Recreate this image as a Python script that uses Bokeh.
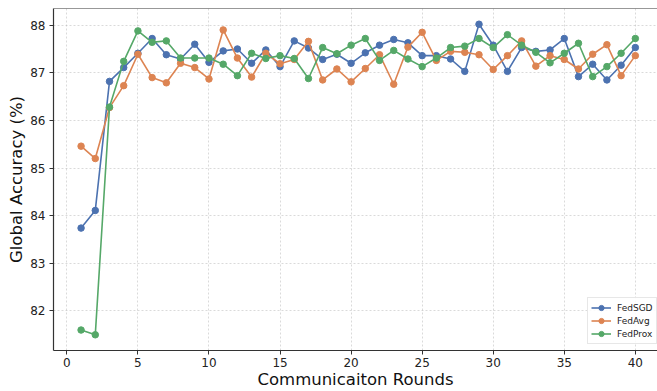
from bokeh.plotting import figure
from bokeh.models import FixedTicker, Span, Legend, LegendItem, Range1d
from bokeh.embed import file_html
from bokeh.resources import INLINE

rounds = list(range(1, 41))
fedsgd = [83.74, 84.11, 86.82, 87.11, 87.41, 87.72, 87.38, 87.29, 87.60, 87.22,
          87.46, 87.50, 87.20, 87.48, 87.13, 87.67, 87.52, 87.28, 87.39, 87.20,
          87.42, 87.58, 87.70, 87.63, 87.36, 87.36, 87.29, 87.03, 88.02, 87.58,
          87.03, 87.53, 87.45, 87.48, 87.72, 86.92, 87.18, 86.85, 87.16, 87.53]
fedavg = [85.46, 85.20, 86.27, 86.73, 87.39, 86.90, 86.79, 87.20, 87.11, 86.87,
          87.90, 87.31, 86.91, 87.41, 87.19, 87.28, 87.66, 86.85, 87.08, 86.81,
          87.09, 87.38, 86.76, 87.54, 87.85, 87.26, 87.45, 87.43, 87.38, 87.07,
          87.36, 87.67, 87.14, 87.36, 87.28, 87.08, 87.39, 87.59, 86.94, 87.36]
fedprox = [81.60, 81.50, 86.28, 87.24, 87.88, 87.64, 87.67, 87.31, 87.31, 87.31,
           87.18, 86.94, 87.41, 87.30, 87.36, 87.30, 86.88, 87.53, 87.40, 87.58,
           87.72, 87.26, 87.47, 87.29, 87.13, 87.31, 87.53, 87.56, 87.72, 87.53,
           87.80, 87.58, 87.43, 87.21, 87.41, 87.62, 86.92, 87.13, 87.41, 87.72]
series_names = ["FedSGD", "FedAvg", "FedProx"]
colors = ["#4C72B0", "#DD8452", "#55A868"]
x_ticks = [0, 5, 10, 15, 20, 25, 30, 35, 40]
y_ticks = [82, 83, 84, 85, 86, 87, 88]

FONT = "DejaVu Sans"

p = figure(width=657, height=391, output_backend="svg", toolbar_location=None,
           x_range=Range1d(-0.94, 41.56), y_range=Range1d(81.17, 88.35))
p.min_border_left = 53
p.min_border_right = 0
p.min_border_top = 8
p.min_border_bottom = 39
p.outline_line_color = None
p.background_fill_color = "white"
p.border_fill_color = "white"

for ax in (p.xaxis[0], p.yaxis[0]):
    ax.axis_line_color = "#333333"
    ax.axis_line_width = 1.2
    ax.major_tick_line_color = "#333333"
    ax.major_tick_out = 4
    ax.major_tick_in = 0
    ax.minor_tick_line_color = None
    ax.major_label_text_font = FONT
    ax.major_label_text_font_size = "12px"
    ax.major_label_text_color = "#222222"
    ax.axis_label_text_font = FONT
    ax.axis_label_text_font_size = "16.5px"
    ax.axis_label_text_font_style = "normal"
    ax.axis_label_text_color = "#111111"

p.xaxis.ticker = FixedTicker(ticks=x_ticks)
p.yaxis.ticker = FixedTicker(ticks=y_ticks)
p.xaxis.axis_label = "Communicaiton Rounds"
p.yaxis.axis_label = "Global Accuracy (%)"
p.xaxis.major_label_standoff = 3
p.yaxis.major_label_standoff = 4
p.xaxis.axis_label_standoff = 0
p.yaxis.axis_label_standoff = 1

p.xgrid.ticker = FixedTicker(ticks=x_ticks)
p.ygrid.ticker = FixedTicker(ticks=y_ticks)
for g in (p.xgrid[0], p.ygrid[0]):
    g.grid_line_color = "#b0b0b0"
    g.grid_line_alpha = 0.6
    g.grid_line_dash = "2 2"
    g.grid_line_width = 0.8

top = Span(location=88.35, dimension="width", line_color="#333333", line_width=1.2)
p.add_layout(top)

items = []
for name, ys, c in zip(series_names, [fedsgd, fedavg, fedprox], colors):
    l = p.line(rounds, ys, line_color=c, line_width=1.6)
    s = p.scatter(rounds, ys, size=6.5, fill_color=c, line_color=c)
    items.append(LegendItem(label=name, renderers=[l, s]))

legend = Legend(items=items, location=(534, 6))
legend.label_text_font = FONT
legend.label_text_font_size = "9px"
legend.label_text_color = "#222222"
legend.glyph_width = 20
legend.glyph_height = 13
legend.label_height = 13
legend.spacing = 0
legend.padding = 3
legend.margin = 0
legend.label_standoff = 6
legend.border_line_color = "#d0d0d0"
legend.border_line_width = 1
legend.background_fill_alpha = 0.85
p.add_layout(legend)

open("out.html", "w").write(file_html(p, INLINE))
